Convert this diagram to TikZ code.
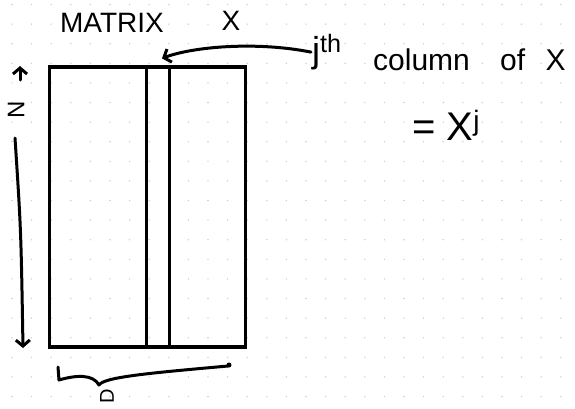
\documentclass[tikz,border=0pt]{standalone}
\usepackage{fontspec}
\setmainfont{Liberation Sans}
\usetikzlibrary{arrows.meta,positioning}

\begin{document}
\begin{tikzpicture}[
  x=1pt, y=-1pt,
  >={Straight Barb[length=6pt,width=14pt]},
  ink/.style={line width=3pt, line cap=round, line join=round},
  matbox/.style={draw, line width=3.2pt, inner sep=0pt,
    minimum width=196pt, minimum height=280pt},
  colbox/.style={draw, line width=3.2pt, inner sep=0pt,
    minimum width=23pt, minimum height=280pt},
  hand/.style={inner sep=1pt, font=\fontsize{28}{32}\selectfont},
  dotmark/.style={fill=black!20}
]
  \useasboundingbox (0,0) rectangle (575,408);
  % dotted paper
  \foreach \i in {0,...,29}
    \foreach \j in {0,...,20}
      \fill[dotmark] (12+19.6*\i, 4.5+19.6*\j) circle (0.8pt);

  \node[matbox] (mat) at (147.5,207) {};
  \node[colbox] (col) at (158,207) {};

  \node[hand] (title) at (112,23) {MATRIX};
  \node[hand] (xname) at (231,21) {X};
  \node[hand, font=\fontsize{36}{40}\selectfont, anchor=base west] (jth) at (311,62) {j\textsuperscript{th}};
  \node[hand, font=\fontsize{30}{34}\selectfont, anchor=base west] (colname) at (372,70) {column\hspace{22pt} of\hspace{12pt} X};
  \node[hand, font=\fontsize{40}{44}\selectfont, anchor=base west] (xj) at (411,140) {= X\textsuperscript{j}};

  % N extent
  \node[hand, font=\fontsize{24}{28}\selectfont, rotate=90] (nlbl) at (16,110) {N};
  \coordinate (nup) at (20,80);
  \coordinate (ntop) at (20,66);
  \coordinate (ndown) at (15,138);
  \coordinate (nbot) at (23,348);
  \draw[ink,->] (nup) -- (ntop);
  \draw[ink,->] (ndown) .. controls (21,230) .. (nbot);

  % column pointer
  \draw[ink,->] (jth.west) .. controls (255,41) and (192,47) .. ([xshift=4pt,yshift=7pt]col.north);

  % D extent
  \draw[ink] (58,367) -- (59,380) .. controls (76,375) and (93,374) .. (99,385)
    .. controls (104,377) and (150,373) .. (228,366);
  \fill (229,365) circle (2.5pt);
  \node[hand, font=\fontsize{20}{24}\selectfont, rotate=90] (dlbl) at (107,396) {D};
\end{tikzpicture}
\end{document}
